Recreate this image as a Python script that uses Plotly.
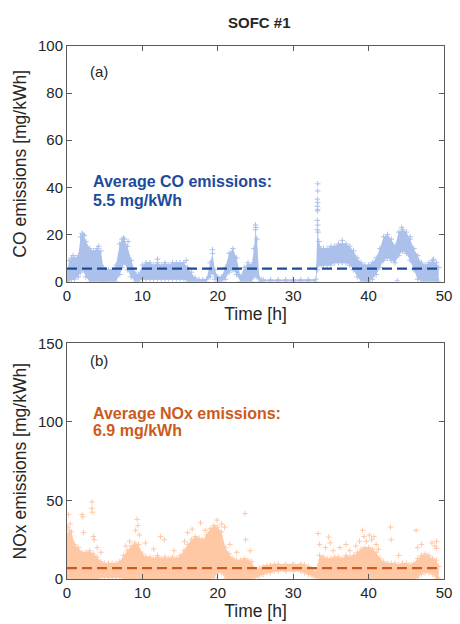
import plotly.graph_objects as go

# ---------------- data ----------------
co_time = [0, 0.3, 0.6, 1.0, 1.5, 1.8, 2.1, 2.5, 3.0, 3.5, 4.0, 4.5, 4.8, 5.0, 5.5, 6.0, 6.5,
           7.0, 7.3, 7.6, 8.0, 8.5, 9.0, 9.5, 10.0, 10.5, 11.0, 11.5, 12.0, 12.5, 13.0, 13.5,
           14.0, 14.5, 15.0, 15.5, 16.0, 16.5, 17.0, 17.5, 18.0, 18.5, 19.0, 19.3, 19.6, 20.0,
           20.5, 21.0, 21.5, 22.0, 22.5, 23.0, 23.5, 24.0, 24.5, 24.8, 25.0, 25.2, 25.5, 26.0,
           27.0, 28.0, 29.0, 30.0, 31.0, 32.0, 33.0, 33.2, 33.4, 33.7, 34.0, 34.5, 35.0, 35.5,
           36.0, 36.5, 37.0, 37.5, 38.0, 38.5, 39.0, 39.5, 40.0, 40.5, 41.0, 41.5, 42.0, 42.5,
           43.0, 43.5, 44.0, 44.5, 45.0, 45.5, 46.0, 46.5, 47.0, 47.5, 48.0, 48.5, 49.0, 49.3]
co_low = [0, 0, 1, 1, 2, 4, 5, 2, 0, 0, 0, 0, 0, 0, 0, 0, 0,
          3, 6, 8, 5, 2, 0, 0, 1, 1, 1, 1, 1, 1, 1, 1,
          1, 1, 1, 1, 0, 0, 0, 0, 0, 0, 2, 4, 1, 0,
          0, 1, 4, 5, 3, 0, 0, 0, 0, 2, 3, 2, 0, 0,
          0, 0, 0, 0, 0, 0, 0, 5, 7, 7, 7, 7, 7, 8,
          8, 8, 8, 7, 5, 2, 0, 0, 0, 1, 3, 6, 9, 10,
          9, 8, 11, 13, 12, 9, 5, 1, 0, 0, 0, 0, 0, 0]
co_high = [4, 9, 10, 10, 11, 19, 20, 17, 14, 13, 14, 13, 6, 5, 5, 5, 7,
           16, 18, 18, 15, 9, 4, 3, 7, 8, 8, 7, 8, 7, 8, 7,
           8, 8, 8, 8, 6, 4, 1.5, 0.8, 0.8, 1, 8, 12, 5, 2,
           2, 6, 12, 14, 10, 2, 6, 8, 7, 14, 22, 18, 1.5, 0.8,
           0.8, 0.8, 0.8, 0.8, 0.8, 0.8, 1, 22, 17, 14, 14, 14, 15, 15,
           16, 16, 16, 15, 13, 10, 8, 7, 7, 8, 10, 14, 19, 20,
           18, 15, 21, 22, 21, 18, 14, 11, 8, 7, 8, 9, 8, 6]
co_extra_t = [33.25, 33.25, 33.2, 33.25, 33.2, 33.25, 33.2, 33.2, 33.25, 33.3, 25.0, 25.05,
              19.3, 2.0, 2.3, 7.5, 8.1, 12.0, 15.8, 36.5, 44.4, 45.5, 48.6, 43.8, 40.0, 0.8, 4.2]
co_extra_v = [41.5, 38.5, 35, 33.5, 32, 30.5, 30, 26, 24, 21, 24, 23,
              13.5, 20.5, 19.5, 18.5, 17, 9.5, 9, 17.5, 23, 19, 9.5, 0.3, 0.3, 11, 15]
co_avg = 5.5

nox_time = [0.0, 0.3, 0.6, 1.0, 1.5, 2.0, 2.5, 3.0, 3.5, 4.0, 4.5, 5.0, 5.5, 6.0, 6.5, 7.0,
            7.5, 8.0, 8.5, 9.0, 9.5, 10.0, 10.5, 11.0, 11.5, 12.0, 12.5, 13.0, 13.5, 14.0,
            14.5, 15.0, 15.5, 16.0, 16.5, 17.0, 17.5, 18.0, 18.5, 19.0, 19.5, 20.0, 20.5,
            21.0, 21.5, 22.0, 22.5, 23.0, 23.5, 24.0, 24.5, 25.0, 25.5, 26.0, 26.5, 27.0,
            27.5, 28.0, 29.0, 30.0, 31.0, 31.5, 32.0, 32.5, 33.0, 33.5, 34.0, 34.5, 35.0,
            35.5, 36.0, 36.5, 37.0, 37.5, 38.0, 38.5, 39.0, 39.5, 40.0, 40.5, 41.0, 41.5,
            42.0, 42.5, 43.0, 43.5, 44.0, 44.5, 45.0, 45.5, 46.0, 46.5, 47.0, 47.5, 48.0,
            48.5, 49.0, 49.3]
nox_low = [0, 0, 0, 0, 0, 0, 0, 0, 0, 0, 1, 1, 1, 1, 1, 1,
           0, 0, 0, 0, 0, 0, 0, 0, 0, 0, 0, 0, 0, 0,
           0, 0, 0, 0, 0, 0, 0, 0, 0, 0, 1, 4, 4,
           0, 0, 0, 0, 0, 0, 0, 0, 1, 2, 3, 4, 4,
           5, 5, 5, 5, 5, 4, 3, 2, 1, 0, 0, 0, 0,
           0, 0, 0, 0, 0, 0, 0, 0, 0, 0, 0, 0, 0,
           0, 0, 0, 0, 0, 0, 0, 0, 0, 1, 3, 4, 4,
           3, 0, 0]
nox_high = [28, 31, 30, 22, 20, 17, 17, 18, 16, 14, 11, 10, 10, 10, 10, 11,
            15, 18, 21, 23, 22, 16, 14, 14, 13, 15, 13, 14, 13, 14,
            13, 15, 18, 22, 25, 27, 26, 25, 28, 32, 34, 33, 30,
            20, 16, 13, 12, 12, 13, 12, 11, 6, 7, 8, 8.5, 9,
            9.3, 9.5, 9.5, 9.5, 9.5, 9, 8, 6, 5, 15, 14, 13, 13,
            14, 14, 13, 15, 14, 15, 17, 19, 20, 20, 19, 17, 13,
            11, 10, 10, 10, 9, 10, 10, 9, 10, 13, 15, 16, 15,
            13, 12, 8]
nox_extra_t = [0.2, 0.4, 0.1, 2.0, 2.1, 2.2, 3.3, 3.3, 3.35, 3.5, 3.6, 4.0, 4.5, 7.8, 8.3, 9.1,
               9.3, 9.4, 9.6, 10.4, 11.5, 12.4, 12.9, 14.2, 15.6, 16.0, 16.6, 17.7, 18.3, 19.0,
               19.9, 20.5, 20.9, 21.6, 22.5, 23.6, 23.7, 24.3, 33.3, 33.5, 34.3, 34.7, 34.9,
               35.3, 36.2, 37.0, 37.5, 38.3, 38.8, 39.2, 39.4, 39.7, 40.1, 40.4, 40.7, 41.0,
               41.3, 42.9, 43.0, 44.0, 46.3, 46.5, 47.0, 48.4, 48.8, 49.0, 49.0]
nox_extra_v = [41, 35, 33, 41, 39.5, 29.5, 49, 45, 42.5, 27, 25, 20, 17, 21, 24, 31,
               38, 34, 28, 23, 19, 27, 25, 18, 24, 29.5, 31.7, 35.8, 31, 30,
               37.5, 35, 33, 22, 17, 41.7, 25, 18, 29, 22, 20, 26.7, 23,
               18, 20, 22, 18, 21, 24, 31, 27, 24, 28, 25, 27, 22,
               19, 33, 25, 15, 31, 20, 22, 23, 21, 24, 19.5]
nox_avg = 6.9

x_ticks = [0, 10, 20, 30, 40, 50]
co_ticks = [0, 20, 40, 60, 80, 100]
nox_ticks = [0, 50, 100, 150]

# ---------------- styles ----------------
FONT = "Liberation Sans, Arial, Helvetica, sans-serif"
CO_MARK = "#abc0ea"
NOX_MARK = "#ffc8a5"
CO_TXT = "#1d4b9b"
NOX_TXT = "#cc5a1a"
AX = "#5a5a5a"
TXT = "#262626"

fig = go.Figure()


def add_series(t, low, high, ext_t, ext_v, avg, color, avg_color, xa, ya):
    fig.add_trace(go.Scatter(x=t, y=low, mode="lines", line=dict(width=0, color=color),
                             xaxis=xa, yaxis=ya, showlegend=False, hoverinfo="skip"))
    fig.add_trace(go.Scatter(x=t, y=high, mode="lines", line=dict(width=0, color=color),
                             fill="tonexty", fillcolor=color,
                             xaxis=xa, yaxis=ya, showlegend=False, hoverinfo="skip"))
    mk = dict(symbol="cross-thin", size=4, color=color, line=dict(width=1, color=color))
    fig.add_trace(go.Scatter(x=t, y=high, mode="markers", marker=mk,
                             xaxis=xa, yaxis=ya, showlegend=False))
    fig.add_trace(go.Scatter(x=t, y=low, mode="markers", marker=mk,
                             xaxis=xa, yaxis=ya, showlegend=False))
    fig.add_trace(go.Scatter(x=ext_t, y=ext_v, mode="markers", marker=mk,
                             xaxis=xa, yaxis=ya, showlegend=False))
    fig.add_trace(go.Scatter(x=[t[0], t[-1]], y=[avg, avg], mode="lines",
                             line=dict(color=avg_color, width=2.2, dash="10px,5px"),
                             xaxis=xa, yaxis=ya, showlegend=False))


add_series(co_time, co_low, co_high, co_extra_t, co_extra_v, co_avg, CO_MARK, CO_TXT, "x", "y")
add_series(nox_time, nox_low, nox_high, nox_extra_t, nox_extra_v, nox_avg, NOX_MARK, NOX_TXT, "x2", "y2")

axis_common = dict(showline=True, linecolor=AX, linewidth=1, mirror="ticks", ticks="inside",
                   ticklen=5, tickcolor=AX, tickwidth=1, showgrid=False, zeroline=False,
                   ticklabeloverflow="allow",
                   tickfont=dict(family=FONT, size=15, color=TXT))

fig.update_layout(
    width=460, height=624,
    margin=dict(l=67, r=8, t=45.5, b=44.5),
    paper_bgcolor="white", plot_bgcolor="white",
    font=dict(family=FONT, color=TXT),
    title=dict(text="<b>SOFC #1</b>", x=0.5636, xanchor="center", y=1 - 23 / 624, yanchor="middle",
               font=dict(family=FONT, size=15, color=TXT)),
    xaxis=dict(domain=[0, 1], anchor="y", range=[0, 50], tickvals=x_ticks,
               title=dict(text="Time [h]", font=dict(family=FONT, size=17.5, color=TXT), standoff=2),
               **axis_common),
    yaxis=dict(domain=[0.558, 1], anchor="x", range=[0, 100], tickvals=co_ticks,
               title=dict(text="CO emissions [mg/kWh]", font=dict(family=FONT, size=17.5, color=TXT), standoff=6),
               **axis_common),
    xaxis2=dict(domain=[0, 1], anchor="y2", range=[0, 50], tickvals=x_ticks,
                title=dict(text="Time [h]", font=dict(family=FONT, size=17.5, color=TXT), standoff=2),
                **axis_common),
    yaxis2=dict(domain=[0, 0.442], anchor="x2", range=[0, 150], tickvals=nox_ticks,
                title=dict(text="NOx emissions [mg/kWh]", font=dict(family=FONT, size=17.5, color=TXT), standoff=6),
                **axis_common),
)

ann = [
    dict(text="(a)", x=2.75, y=89, xref="x", yref="y", font=dict(family=FONT, size=15, color=TXT)),
    dict(text="<b>Average CO emissions:</b>", x=3.2, y=42.3, xref="x", yref="y",
         font=dict(family=FONT, size=16, color=CO_TXT)),
    dict(text="<b>5.5 mg/kWh</b>", x=3.2, y=34.6, xref="x", yref="y",
         font=dict(family=FONT, size=16, color=CO_TXT)),
    dict(text="(b)", x=2.75, y=139, xref="x2", yref="y2", font=dict(family=FONT, size=15, color=TXT)),
    dict(text="<b>Average NOx emissions:</b>", x=3.2, y=105.6, xref="x2", yref="y2",
         font=dict(family=FONT, size=16, color=NOX_TXT)),
    dict(text="<b>6.9 mg/kWh</b>", x=3.2, y=94.5, xref="x2", yref="y2",
         font=dict(family=FONT, size=16, color=NOX_TXT)),
]
for a in ann:
    fig.add_annotation(showarrow=False, xanchor="left", yanchor="middle", align="left", **a)

fig.write_html("out.html")
